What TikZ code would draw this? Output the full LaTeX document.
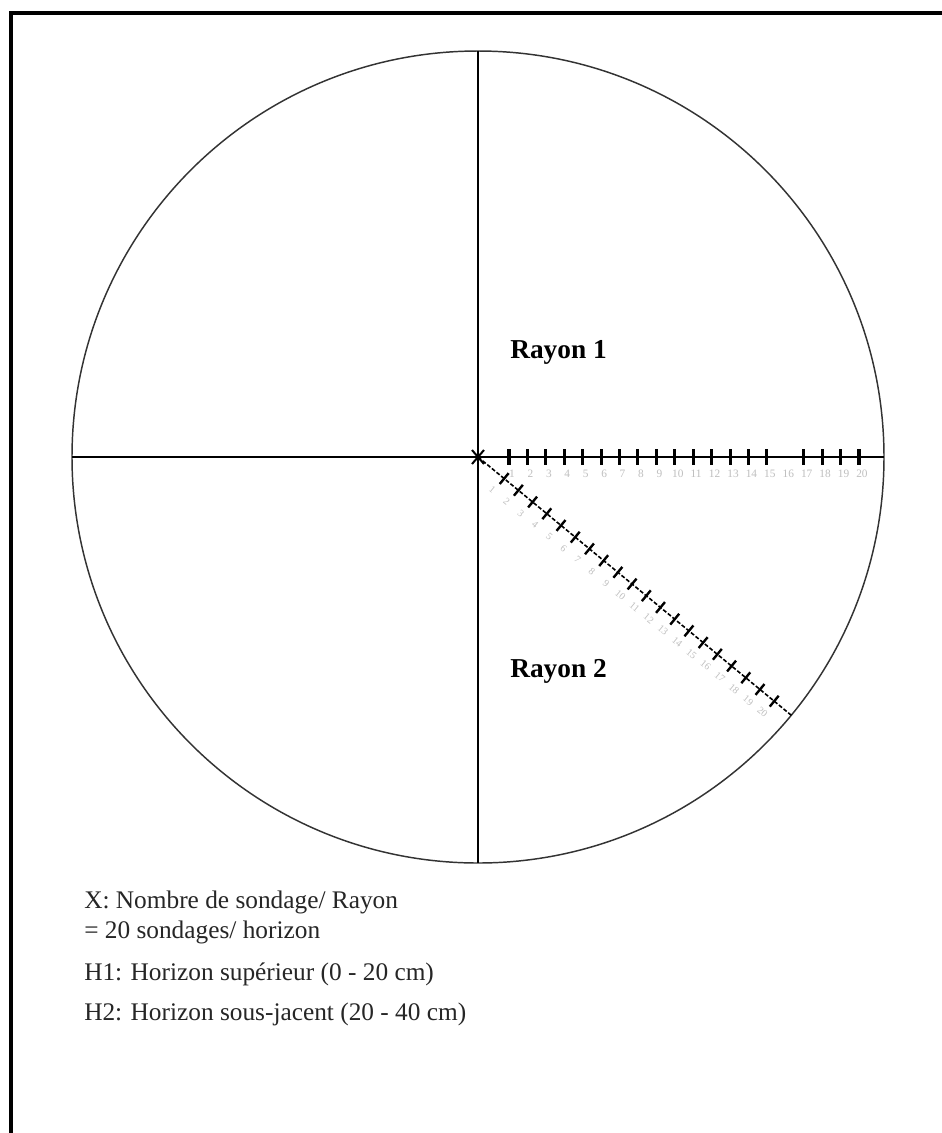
\documentclass[tikz,border=0pt]{standalone}
\usepackage{fontspec}
\setmainfont{Liberation Serif}
\usetikzlibrary{calc}
\begin{document}
\begin{tikzpicture}[x=0.75pt,y=-0.75pt,
 frame/.style={line width=2.4pt},
 axis/.style={line width=1.8pt},
 rim/.style={line width=1.1pt, draw=black!80},
 spokedash/.style={line width=1.2pt, dash pattern=on 3pt off 1.5pt},
 tickmark/.style={line width=2.3pt},
 dtickmark/.style={line width=1.8pt},
 ticklabel/.style={font=\fontsize{8.5}{9}\selectfont, text=black!25, inner sep=0pt},
 dticklabel/.style={font=\fontsize{7.5}{8}\selectfont, text=black!25, inner sep=0pt, rotate=-39.5},
 title/.style={font=\fontsize{20.5}{22}\selectfont\bfseries, inner sep=0pt, anchor=base west},
 legend/.style={font=\fontsize{19}{21}\selectfont, text=black!85, inner sep=0pt, anchor=base west}]
\useasboundingbox (0,0) rectangle (942,1133);
\fill[white] (0,0) rectangle (942,1133);
% frame
\coordinate (fb) at (11,1133);
\coordinate (ftl) at (11,13);
\coordinate (fr) at (942,13);
\draw[frame] (fb) -- (ftl) -- (fr);
% circle and axes
\coordinate (O) at (478,457);
\draw[rim] (O) circle[radius=406];
\coordinate (W) at (72,457);
\coordinate (E) at (884,457);
\coordinate (N) at (478,51);
\coordinate (S) at (478,863);
\draw[axis] (W) -- (E);
\draw[axis] (N) -- (S);
\coordinate (R2) at ($(O)+(39.5:406)$);
\draw[spokedash] (O) -- (R2);
% centre mark
\coordinate (xa) at ($(O)+(-6,-7)$);
\coordinate (xb) at ($(O)+(6,7)$);
\coordinate (xc) at ($(O)+(-6,7)$);
\coordinate (xd) at ($(O)+(6,-7)$);
\draw[line width=1.5pt] (xa) -- (xb) (xc) -- (xd);
% ticks on Rayon 1
\foreach \i in {1,...,20}{
  \pgfmathsetmacro{\d}{12.58+18.42*\i}
  \ifnum\i=16\else
    \draw[tickmark] ($(O)+(\d,-8)$) -- ($(O)+(\d,8)$);
  \fi
  \node[ticklabel] (la\i) at ($(O)+(\d+3,17)$) {\i};
}
% ticks on Rayon 2
\foreach \i in {1,...,20}{
  \pgfmathsetmacro{\d}{15.5+18.42*\i}
  \draw[dtickmark] ($(O)+(39.5:\d)+(129.5:7)$) -- ($(O)+(39.5:\d)+(-50.5:7)$);
  \node[dticklabel] (lb\i) at ($(O)+(39.5:\d-2)+(129.5:16)$) {\i};
}
% titles
\node[title] (r1) at (510,358) {Rayon 1};
\node[title] (r2) at (510,677) {Rayon 2};
% legend
\node[legend] (l1) at (84,908) {X: Nombre de sondage/ Rayon};
\node[legend] (l2) at (84,938) {= 20 sondages/ horizon};
\node[legend] (l3) at (84,980) {H1: Horizon supérieur (0 - 20 cm)};
\node[legend] (l4) at (84,1020) {H2: Horizon sous-jacent (20 - 40 cm)};
\end{tikzpicture}
\end{document}
